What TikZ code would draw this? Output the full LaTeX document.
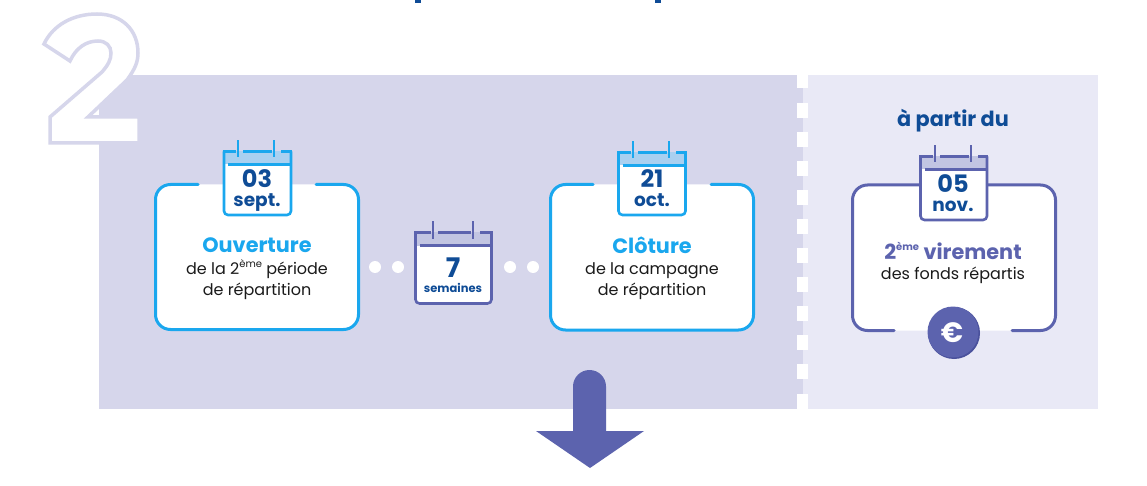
\documentclass[tikz,border=0pt]{standalone}
\usepackage{fontspec}
\setmainfont{Poppins}
\definecolor{bgmain}{HTML}{D6D6EB}
\definecolor{bgright}{HTML}{E9E9F6}
\definecolor{cyanline}{HTML}{1AA7EE}
\definecolor{cyanband}{HTML}{A9D0F0}
\definecolor{purpline}{HTML}{5C63AE}
\definecolor{purpband}{HTML}{C2C5E2}
\definecolor{purpdark}{HTML}{4A519C}
\definecolor{navy}{HTML}{0F4C96}
\definecolor{ink}{HTML}{1A1A1A}
\newcommand\supr[1]{\raisebox{0.42em}{\fontsize{10}{10}\selectfont #1}}
\tikzset{
  x=1pt,y=-1pt,
  line join=round,
  cardline/.style={line width=3pt,line cap=round},
  calline/.style={line width=2.6pt},
  base/.style={anchor=base,inner sep=0pt,outer sep=0pt},
  datenum/.style={base,font=\fontsize{24}{24}\selectfont\bfseries,text=navy},
  datemon/.style={base,font=\fontsize{18.5}{18.5}\selectfont\bfseries,text=navy},
  headtxt/.style={base,font=\fontsize{20.8}{20.8}\selectfont\bfseries},
  bodytxt/.style={base,font=\fontsize{16}{16}\selectfont,text=ink},
}
% #1 colour line, #2 colour band, #3 left, #4 right, #5 top, #6 bottom, #7 ring 1, #8 ring 2
\newcommand\calicon[8]{
  \fill[white,rounded corners=4pt] (#3,#5) rectangle (#4,#6);
  \fill[#2] (#3,#5) rectangle (#4,#5+13);
  \draw[#1,calline,rounded corners=4pt] (#3,#5) -- (#3,#6) -- (#4,#6) -- (#4,#5);
  \draw[#1,calline,line cap=butt] (#3-1.3,#5) -- (#7-2,#5);
  \draw[#1,calline,line cap=butt] (#7+5,#5) -- (#8-2,#5);
  \draw[#1,calline,line cap=butt] (#8+7,#5) -- (#4+1.3,#5);
  \draw[#1,calline,line cap=butt] (#3+4,#5+13) -- (#4,#5+13);
  \draw[#1,line width=1.8pt] (#7,#5-11) -- (#7,#5+6);
  \draw[#1,line width=1.8pt] (#8,#5-11) -- (#8,#5+6);
}
\begin{document}
\begin{tikzpicture}
\useasboundingbox (0,0) rectangle (1147,486);
\fill[white] (0,0) rectangle (1147,486);
% fragments of the cut-off title
\fill[navy] (415,0) rectangle (421,3);
\fill[navy] (655,0) rectangle (661,3);
% bands
\fill[bgmain] (99,75) rectangle (802.5,409);
\fill[bgright] (802.5,75) rectangle (1098,409);
\foreach \yy in {103,132,161,190,219,248,277,306,335,364,394}
  \fill[white] (797,\yy) rectangle (808,\yy+15);
\fill[white] (797,75) rectangle (808,88);
% big numeral
\draw[bgmain,line width=3.5pt,fill=white,line join=miter]
  (44,44) .. controls (53,25) and (73,14) .. (97,14)
  .. controls (122,14) and (138,30) .. (138,53)
  .. controls (138,62) and (135,69) .. (127,80)
  -- (88,117) -- (139,117) -- (139,143) -- (50,143) -- (50,117) -- (102,72)
  .. controls (108,65) and (111,60) .. (111,53)
  .. controls (111,46) and (106,41) .. (98,41)
  .. controls (86,41) and (76,48) .. (70,61) -- cycle;
% arrow
\fill[purpline] (573,431) -- (573,386.5) arc[start angle=180,end angle=360,radius=16.5] -- (606,431) -- (644,431) -- (590,468) -- (536,431) -- cycle;
% card 1
\fill[white,rounded corners=15pt] (155.5,184.5) rectangle (358.5,329.5);
\draw[cyanline,cardline,rounded corners=15pt] (198,184.5) -- (155.5,184.5) -- (155.5,329.5) -- (358.5,329.5) -- (358.5,184.5) -- (316,184.5);
\calicon{cyanline}{cyanband}{224}{291}{151.5}{215}{238}{274}
\node[datenum] (d1) at (257,188) {03};
\node[datemon] (m1) at (257,207) {sept.};
\node[headtxt,text=cyanline] (h1) at (257,252) {Ouverture};
\node[bodytxt] (b1a) at (257,274) {de la 2\supr{ème} période};
\node[bodytxt] (b1b) at (257,295) {de répartition};
% dots
\foreach \xx/\nn in {375/a,398/b,510/c,533/d}
  \node[circle,fill=white,minimum size=12pt,inner sep=0pt] (dot\nn) at (\xx,267) {};
% middle calendar
\calicon{purpline}{purpband}{415.5}{491.5}{232.5}{303.5}{433}{473}
\node[base,font=\fontsize{27}{27}\selectfont\bfseries,text=navy] (d2) at (453,277) {7};
\node[base,font=\fontsize{11.5}{11.5}\selectfont\bfseries,text=navy] (m2) at (453,292) {semaines};
% card 2
\fill[white,rounded corners=15pt] (550.5,184.5) rectangle (753.5,330);
\draw[cyanline,cardline,rounded corners=15pt] (593,184.5) -- (550.5,184.5) -- (550.5,330) -- (753.5,330) -- (753.5,184.5) -- (711,184.5);
\calicon{cyanline}{cyanband}{618.5}{685.5}{152.5}{215}{633}{669}
\node[datenum] (d3) at (652,188) {21};
\node[datemon] (m3) at (652,207) {oct.};
\node[headtxt,text=cyanline] (h3) at (652,253) {Clôture};
\node[bodytxt] (b3a) at (652,274) {de la campagne};
\node[bodytxt] (b3b) at (652,295) {de répartition};
% card 3
\fill[white,rounded corners=15pt] (852.5,185) rectangle (1055.5,330.5);
\draw[purpline,cardline,rounded corners=15pt] (919,185) -- (852.5,185) -- (852.5,330.5) -- (894,330.5);
\draw[purpline,cardline,rounded corners=15pt] (1012,330.5) -- (1055.5,330.5) -- (1055.5,185) -- (988,185);
\calicon{purpline}{purpband}{920.5}{987}{156.5}{220}{935}{971}
\node[datenum] (d4) at (953,193) {05};
\node[datemon] (m4) at (953,212) {nov.};
\node[headtxt,text=purpline] (h4) at (953,259) {2\supr{ème} virement};
\node[bodytxt] (b4) at (953,279) {des fonds répartis};
\node[base,font=\fontsize{20.8}{20.8}\selectfont\bfseries,text=navy] (t4) at (953,127) {à partir du};
% euro coin
\fill[purpdark] (954,333) circle[radius=26];
\fill[purpline] (953,332) circle[radius=25.5];
\node[font=\fontsize{28}{28}\selectfont\bfseries,text=white,inner sep=0pt] (eur) at (952,333) {€};
\end{tikzpicture}
\end{document}
